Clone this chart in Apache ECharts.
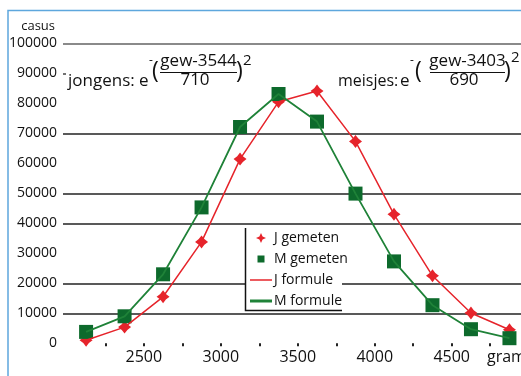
<!DOCTYPE html>
<html>
<head>
<meta charset="utf-8">
<script src="https://cdn.jsdelivr.net/npm/echarts@6/dist/echarts.min.js"></script>
<style>
  html, body { margin: 0; padding: 0; background: #fff; }
  #chart { width: 521px; height: 376px; }
</style>
</head>
<body>
<div id="chart"></div>
<script>
// gewicht (gram) van de klassen
const weights = [2125, 2375, 2625, 2875, 3125, 3375, 3625, 3875, 4125, 4375, 4625, 4875];
// gemeten aantallen
const jGemeten = [1000, 5400, 15500, 33800, 61400, 80500, 84100, 67300, 43000, 22500, 10100, 4500];
const mGemeten = [3800, 9000, 23000, 45300, 72100, 83100, 73900, 49900, 27300, 12700, 4700, 1700];
// formule-lijnen
const jFormule = [1000, 5400, 15500, 33800, 61400, 80500, 84100, 67300, 43000, 22500, 10100, 4500];
const mFormule = [3800, 9000, 23000, 45300, 72100, 83100, 73900, 49900, 27300, 12700, 4700, 1700];

const xTicks = [2250, 2500, 2750, 3000, 3250, 3500, 3750, 4000, 4250, 4500, 4750];
const xLabels = [2500, 3000, 3500, 4000, 4500];
const gridLines = [10000, 20000, 40000, 50000, 70000, 100000];

const FONT = '"Open Sans", "Noto Sans", sans-serif';
const RED = '#e6242b';
const GREEN = '#0d6a2c';
const GREEN_LINE = '#1f8238';
const STAR = 'path://M6,0L8.6,3.4L12,6L8.6,8.6L6,12L3.4,8.6L0,6L3.4,3.4Z';

const pair = (xs, ys) => xs.map((x, i) => [x, ys[i]]);

function txt(text, x, y, size, align) {
  return {
    type: 'text', x: x, y: y, z: 6,
    style: { text: text, font: size + 'px ' + FONT, fill: '#111',
             textAlign: align || 'left', textVerticalAlign: 'middle' }
  };
}
function bar(x1, x2, y) {
  return { type: 'line', z: 6, shape: { x1: x1, y1: y, x2: x2, y2: y },
           style: { stroke: '#111', lineWidth: 1.2 } };
}

var myChart = echarts.init(document.getElementById('chart'));

var option = {
  animation: false,
  textStyle: { fontFamily: FONT },
  grid: { left: 63, right: 0, top: 43.3, bottom: 32.7, outerBoundsMode: 'none' },
  xAxis: {
    type: 'value', min: 1975, max: 4950,
    name: 'gram', nameLocation: 'end', nameGap: -34,
    nameTextStyle: { fontSize: 16, color: '#111', verticalAlign: 'top', padding: [6, 0, 0, 0] },
    axisLine: { show: false },
    splitLine: { show: false },
    axisTick: { show: true, customValues: xTicks, length: 3,
                lineStyle: { color: '#222', width: 2 } },
    axisLabel: { customValues: xLabels, fontSize: 16, color: '#111', margin: 6,
                 formatter: v => String(v) }
  },
  yAxis: {
    type: 'value', min: 0, max: 100000, interval: 10000,
    name: 'casus', nameLocation: 'end', nameGap: 11,
    nameTextStyle: { fontSize: 13, color: '#111', align: 'right', padding: [0, 8, 0, 0] },
    axisLine: { show: false },
    splitLine: { show: false },
    axisTick: { show: true, inside: true, customValues: [90000, 100000], length: 3,
                lineStyle: { color: '#444', width: 1.5 } },
    axisLabel: { fontSize: 14, color: '#111', margin: 6, formatter: v => String(v) }
  },
  legend: {
    orient: 'vertical', left: 250, top: 231, padding: 0,
    itemWidth: 22, itemHeight: 14, itemGap: 7,
    textStyle: { fontSize: 14, color: '#111', padding: [0, 0, 0, -3] },
    data: [
      { name: 'J gemeten', icon: 'path://M0,0M14,14M7,2L8.6,5.4L12,7L8.6,8.6L7,12L5.4,8.6L2,7L5.4,5.4Z' },
      { name: 'M gemeten', icon: 'path://M0,0M14,14M3.5,3.5h7v7h-7z' },
      { name: 'J formule', icon: 'path://M0,0h22v1.5h-22z', itemStyle: { borderWidth: 0 } },
      { name: 'M formule', icon: 'path://M0,0h22v3h-22z', itemStyle: { borderWidth: 0 } }
    ]
  },
  graphic: [
    // blauwe rand
    { type: 'rect', z: 6, shape: { x: 8, y: 10.5, width: 700, height: 600 },
      style: { fill: 'none', stroke: '#5ea7dd', lineWidth: 1.5 } },
    // legendakader
    { type: 'rect', z: 3, shape: { x: 246, y: 226, width: 96, height: 84 },
      style: { fill: '#fff' } },
    { type: 'polyline', z: 3, shape: { points: [[245.5, 228], [245.5, 310.5], [342, 310.5]] },
      style: { fill: 'none', stroke: '#111', lineWidth: 1.5 } },
    // formule jongens
    txt('jongens:', 68, 81.5, 17), txt('e', 139, 81.5, 17), txt('-', 149, 61, 12),
    txt('(', 152, 71, 23), txt('gew-3544', 198.5, 61.5, 17, 'center'), bar(160, 237, 72.5),
    txt('710', 195, 80.5, 17, 'center'), txt(')', 236, 71, 23), txt('2', 243, 61, 15),
    // formule meisjes
    txt('meisjes:', 338, 81.5, 16), txt('e', 400, 81.5, 17), txt('-', 410, 61, 12),
    txt('(', 415, 71, 23), txt('gew-3403', 467.5, 61.5, 17, 'center'), bar(430, 505, 72.5),
    txt('690', 464, 80.5, 17, 'center'), txt(')', 504, 71, 23), txt('2', 511, 58, 15)
  ],
  series: [
    {
      name: 'J formule', type: 'line', data: pair(weights, jFormule),
      symbol: 'none', color: RED,
      itemStyle: { color: RED },
      lineStyle: { color: RED, width: 1.5 },
      markLine: {
        silent: true, symbol: 'none', z: 1,
        label: { show: false },
        data: gridLines.map(v => ({
          yAxis: v,
          lineStyle: { type: 'solid', color: v === 100000 ? '#8a8a8a' : '#222', width: v === 100000 ? 2 : 1.6 }
        }))
      }
    },
    {
      name: 'M formule', type: 'line', data: pair(weights, mFormule),
      symbol: 'none', color: GREEN_LINE,
      itemStyle: { color: GREEN_LINE },
      lineStyle: { color: GREEN_LINE, width: 1.8 }
    },
    {
      name: 'J gemeten', type: 'scatter', data: pair(weights, jGemeten),
      symbol: STAR, symbolSize: 13,
      itemStyle: { color: RED, opacity: 1 }
    },
    {
      name: 'M gemeten', type: 'scatter', data: pair(weights, mGemeten),
      symbol: 'rect', symbolSize: 14,
      itemStyle: { color: GREEN, opacity: 1 }
    }
  ]
};
myChart.setOption(option);
</script>
</body>
</html>
